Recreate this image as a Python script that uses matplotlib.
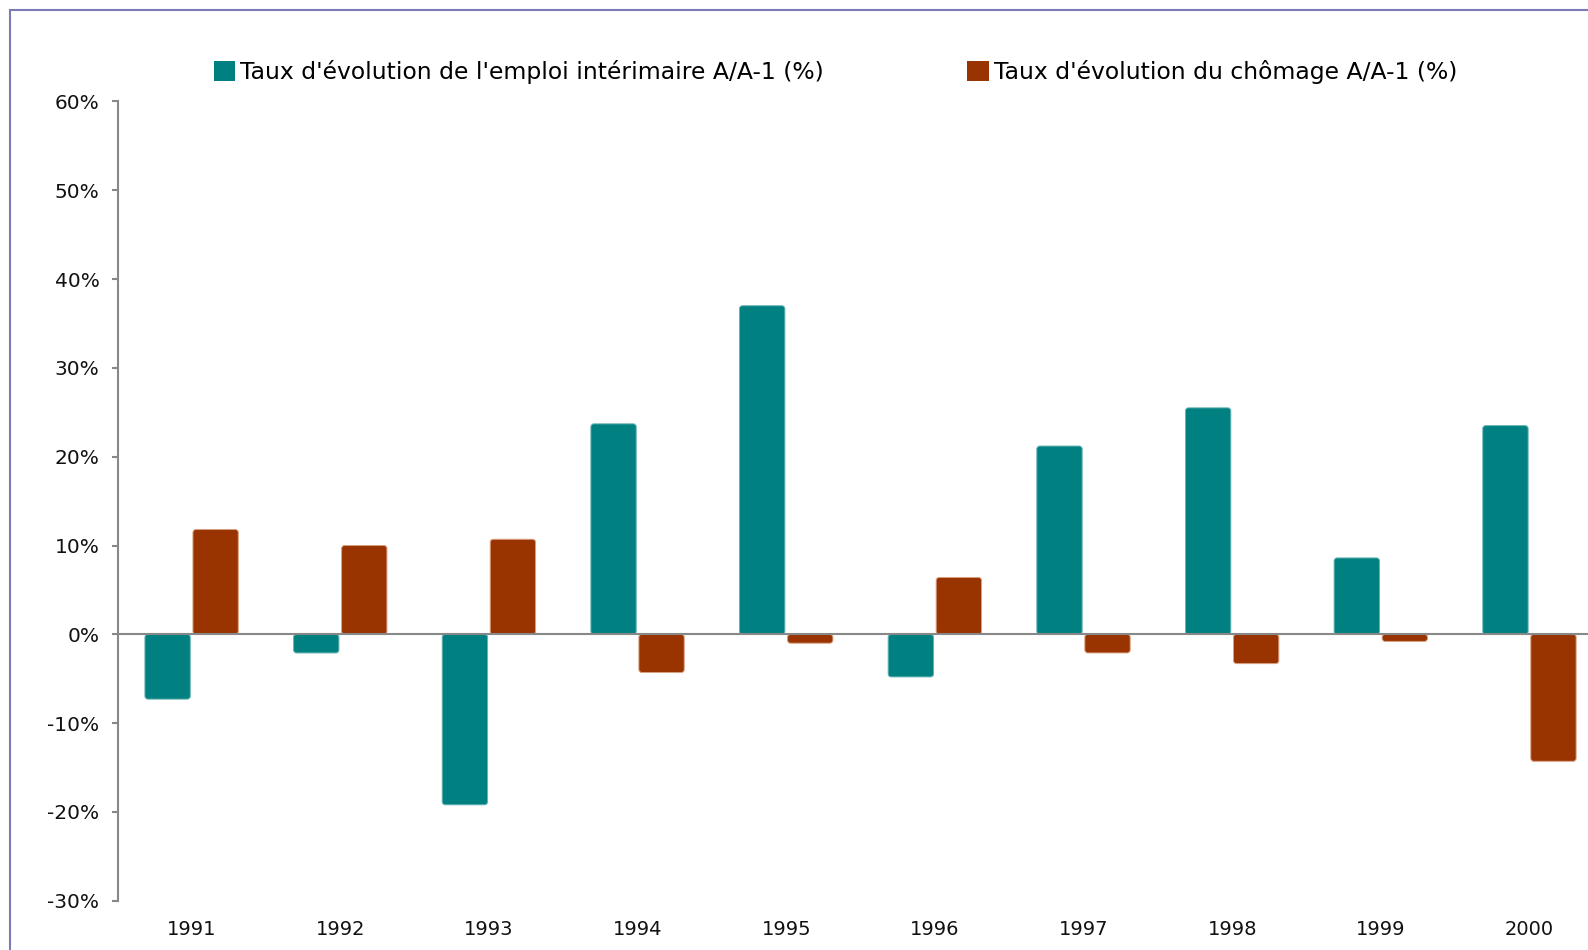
import matplotlib
matplotlib.use("Agg")
import matplotlib.pyplot as plt
from matplotlib.patches import Rectangle, Patch, FancyBboxPatch
import numpy as np

years = ["1991", "1992", "1993", "1994", "1995", "1996", "1997", "1998", "1999", "2000"]
interim = [-7.3, -2.1, -19.2, 23.7, 37.0, -4.8, 21.2, 25.5, 8.6, 23.5]
chomage = [11.8, 10.0, 10.7, -4.3, -1.0, 6.4, -2.1, -3.3, -0.8, -14.3]
yticks = [-30, -20, -10, 0, 10, 20, 30, 40, 50, 60]

TEAL = "#008080"
BROWN = "#993300"
GREY = "#888888"

plt.rcParams["font.family"] = "DejaVu Sans"

W, H = 1588, 950
fig = plt.figure(figsize=(W / 100, H / 100), dpi=100)

# plot area runs past the right edge, as in the original
left, right = 117.5, 1604
top, bottom = 101.5, 900.7
ax = fig.add_axes([left / W, 1 - bottom / H, (right - left) / W, (bottom - top) / H])

ax.set_xlim(-0.5, 9.5)
ax.set_ylim(-30, 60)

x = np.arange(len(years))
w = 0.305
b1 = ax.bar(x - 0.163, interim, width=w, color=TEAL, linewidth=0)
b2 = ax.bar(x + 0.16, chomage, width=w, color=BROWN, linewidth=0)


def round_bars(bars, face, edge):
    # swap the plain rectangles for slightly rounded ones
    px_x = (right - left) / 10.0
    px_y = (bottom - top) / 90.0
    for r in bars:
        bx, by = r.get_x(), r.get_y()
        bw, bh = r.get_width(), r.get_height()
        if bh < 0:
            by, bh = by + bh, -bh
        fb = FancyBboxPatch((bx, by), bw, bh,
                            boxstyle="round,pad=0,rounding_size=%f" % (3.0 / px_x),
                            mutation_aspect=px_x / px_y,
                            facecolor=face, edgecolor=edge, linewidth=0.7)
        ax.add_patch(fb)
        r.set_visible(False)


round_bars(b1, TEAL, "#66b3b3")
round_bars(b2, BROWN, "#d9a080")
ax.axhline(0, color=GREY, lw=1.5, zorder=3)

ax.set_yticks(yticks)
ax.set_yticklabels([f"{v}%" for v in yticks])
ax.set_xticks(x)
ax.set_xticklabels(years)

for s in ["top", "right", "bottom"]:
    ax.spines[s].set_visible(False)
ax.spines["left"].set_color(GREY)
ax.spines["left"].set_linewidth(1.5)
ax.tick_params(axis="y", direction="out", length=4, width=1.5, color=GREY,
               pad=9, labelsize=14.5, labelcolor="#111111")
ax.tick_params(axis="x", length=0, pad=14, labelsize=14, labelcolor="#111111")

handles = [Patch(facecolor=TEAL), Patch(facecolor=BROWN)]
labels = ["Taux d'évolution de l'emploi intérimaire A/A-1 (%)",
          "Taux d'évolution du chômage A/A-1 (%)"]
fig.legend(handles, labels, ncol=2, loc="center left",
           bbox_to_anchor=(214 / W, 1 - 72 / H), frameon=False,
           fontsize=16.9, handlelength=0.91, handleheight=0.91,
           handletextpad=0.21, columnspacing=6.1, borderaxespad=0,
           borderpad=0)

# outer frame (only left and top edges fall inside the image)
fig.patches.append(Rectangle((10 / W, -0.1), 2, 1 - 10 / H + 0.1,
                             transform=fig.transFigure, fill=False,
                             edgecolor="#7b7bb5", linewidth=1.5))

fig.savefig("out.png", dpi=100)
